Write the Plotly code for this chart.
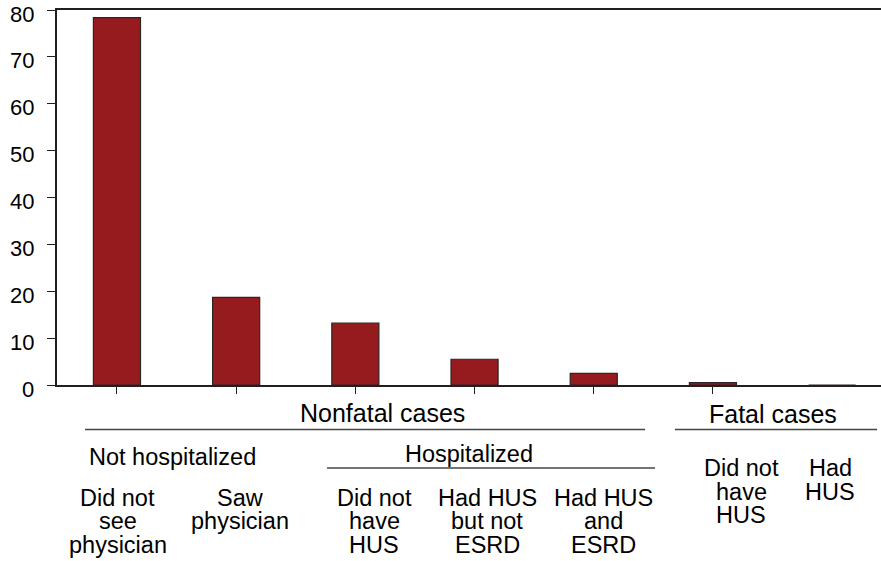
import plotly.graph_objects as go

# ---- data ----
categories = ["Did not see physician", "Saw physician", "Did not have HUS",
              "Had HUS but not ESRD", "Had HUS and ESRD",
              "Fatal: did not have HUS", "Fatal: had HUS"]
values = [78.4, 18.7, 13.2, 5.5, 2.5, 0.5, 0.0]
y_ticks = [0, 10, 20, 30, 40, 50, 60, 70, 80]

cat_label_lines = [
    ["Did not", "see", "physician"],
    ["Saw", "physician"],
    ["Did not", "have", "HUS"],
    ["Had HUS", "but not", "ESRD"],
    ["Had HUS", "and", "ESRD"],
    ["Did not", "have", "HUS"],
    ["Had", "HUS"],
]
group_top = ["Nonfatal cases", "Fatal cases"]
group_mid = ["Not hospitalized", "Hospitalized"]

# ---- layout helpers (pixel -> paper) ----
W, H = 881, 561
L, R, T, B = 57, 0, 10, 176
PW, PH = W - L - R, H - T - B


def px(x):
    return (x - L) / PW


def py(y):
    return (H - B - y) / PH


FONT = "Liberation Sans, Arial, Helvetica, sans-serif"
INK = "#231f20"
BAR = "#961b1f"

xpos = list(range(len(categories)))

fig = go.Figure(go.Bar(
    x=xpos, y=values, width=0.395,
    marker=dict(color=BAR, line=dict(color="#2e2424", width=1.2)),
    hoverinfo="skip",
))

# category label positions (pixel centres)
cat_x_px = [117.5, 240, 374, 487, 603, 741, 830]
cat_y0_px = [498, 498, 498, 498, 498, 468.5, 468.5]
line_step = 23.4

annots = []
# y tick labels (placed on the y scale, nudged like the reference)
for v in y_ticks:
    annots.append(dict(text=str(v), x=0, y=v, xref="paper", yref="y",
                       showarrow=False, xanchor="right", yanchor="middle",
                       xshift=-21, yshift=-4,
                       font=dict(size=22, color="black", family=FONT)))

for lines, cx, cy in zip(cat_label_lines, cat_x_px, cat_y0_px):
    for k, t in enumerate(lines):
        annots.append(dict(text=t, x=px(cx), y=py(cy + k * line_step),
                           xref="paper", yref="paper", showarrow=False,
                           xanchor="center", yanchor="middle",
                           font=dict(size=23.5, color="black", family=FONT)))

for t, cx, cy in zip(group_top, [382, 773], [413, 414]):
    annots.append(dict(text=t, x=px(cx), y=py(cy), xref="paper", yref="paper",
                       showarrow=False, xanchor="center", yanchor="middle",
                       font=dict(size=25, color="black", family=FONT)))
for t, cx, cy in zip(group_mid, [172.5, 469], [457, 453.5]):
    annots.append(dict(text=t, x=px(cx), y=py(cy), xref="paper", yref="paper",
                       showarrow=False, xanchor="center", yanchor="middle",
                       font=dict(size=23.5, color="black", family=FONT)))

shapes = []
for x0, x1, yy in [(85, 645, 429.5), (675, 877, 429.5), (327, 655, 468)]:
    shapes.append(dict(type="line", xref="paper", yref="paper",
                       x0=px(x0), x1=px(x1), y0=py(yy), y1=py(yy),
                       line=dict(color="#444", width=1.3)))

fig.update_layout(
    width=W, height=H,
    margin=dict(l=L, r=R, t=T, b=B),
    paper_bgcolor="white", plot_bgcolor="white",
    showlegend=False,
    annotations=annots, shapes=shapes,
    xaxis=dict(range=[-0.503, 6.41], tickvals=xpos[:6], showticklabels=False,
               ticks="outside", ticklen=7, tickcolor=INK, tickwidth=1.3,
               showline=True, mirror=True, linecolor=INK, linewidth=1.5,
               showgrid=False, zeroline=False, fixedrange=True),
    yaxis=dict(range=[0, 80.02], tickvals=y_ticks, ticks="outside", ticklen=8,
               tickcolor=INK, tickwidth=1.3, showline=True, linecolor=INK,
               linewidth=1.5, showgrid=False, zeroline=False,
               showticklabels=False, fixedrange=True),
)

fig.write_html("out.html", config={"displayModeBar": False},
               post_script="document.body.style.margin='0px';"
                           "document.body.style.padding='0px';")
